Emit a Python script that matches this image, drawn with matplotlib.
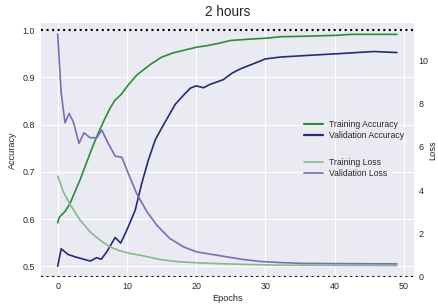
import matplotlib
matplotlib.use('Agg')
import matplotlib.pyplot as plt

plt.style.use('seaborn-v0_8-darkgrid')
plt.rcParams['font.family'] = ['Liberation Sans', 'DejaVu Sans']
plt.rcParams['text.color'] = '0.15'
plt.rcParams['axes.labelcolor'] = '0.15'
plt.rcParams['xtick.color'] = '0.15'
plt.rcParams['ytick.color'] = '0.15'

title = '2 hours'

# epochs / values
train_acc_epochs = [0, 0.23, 1.06, 1.78, 2.5, 3.23, 3.95, 4.67, 5.4, 6.6, 7.57, 8.29, 9.12,
                    10.2, 11.43, 13.36, 15.05, 16.73, 18.42, 20.12, 21.56, 23.24, 24.94,
                    27.83, 30.25, 32.17, 35.54, 40.38, 42.3, 49]
train_acc = [0.592, 0.604, 0.616, 0.633, 0.658, 0.683, 0.711, 0.739, 0.766, 0.806, 0.835,
             0.852, 0.863, 0.884, 0.905, 0.927, 0.943, 0.952, 0.958, 0.964, 0.967, 0.972,
             0.978, 0.981, 0.983, 0.986, 0.987, 0.989, 0.991, 0.991]

val_acc_epochs = [0, 0.5, 1.5, 2.5, 4.7, 5.6, 6.3, 7.1, 8.3, 9.1, 10.0, 11.2, 12.15, 13.1,
                  14.1, 15.3, 16.98, 18.1, 19.15, 20.0, 21.05, 22.0, 23.9, 25.2, 26.4,
                  28.3, 30.0, 32.2, 35.6, 40.4, 45.7, 49]
val_acc = [0.500, 0.537, 0.525, 0.520, 0.511, 0.518, 0.515, 0.531, 0.561, 0.549, 0.577,
           0.619, 0.676, 0.725, 0.768, 0.800, 0.843, 0.861, 0.877, 0.882, 0.878, 0.885,
           0.895, 0.909, 0.918, 0.929, 0.939, 0.943, 0.946, 0.950, 0.9547, 0.9525]

train_loss_epochs = [0, 0.82, 1.78, 3.23, 4.67, 6.12, 7.57, 9.0, 10.5, 11.9, 13.4, 14.8,
                     17.0, 20.1, 23.3, 26.4, 32.2, 40.0, 49]
train_loss = [4.65, 3.92, 3.35, 2.62, 2.08, 1.69, 1.38, 1.20, 1.08, 1.00, 0.90, 0.80,
              0.71, 0.65, 0.61, 0.58, 0.54, 0.53, 0.52]

val_loss_epochs = [0, 0.2, 0.5, 1.06, 1.64, 2.26, 3.08, 3.8, 4.67, 5.64, 6.36, 7.3, 8.3,
                   9.26, 10.2, 11.4, 12.9, 14.3, 16.2, 18.2, 20.1, 23.0, 26.4, 29.3,
                   32.2, 35.5, 49]
val_loss = [11.2, 10.1, 8.5, 7.11, 7.54, 7.15, 6.16, 6.65, 6.42, 6.42, 6.77, 6.16, 5.57,
            5.52, 4.77, 3.85, 3.00, 2.39, 1.77, 1.38, 1.15, 1.00, 0.82, 0.71, 0.66, 0.62,
            0.60]

fig = plt.figure(figsize=(4.38, 3.08), dpi=100)
ax1 = fig.add_axes([0.093, 0.101, 0.852, 0.825])
ax2 = ax1.twinx()

l1, = ax1.plot(train_acc_epochs, train_acc, color='#2e8b3a', lw=1.2, label='Training Accuracy')
l2, = ax1.plot(val_acc_epochs, val_acc, color='#2a2878', lw=1.2, label='Validation Accuracy')
ax1.axhline(1.0, color='black', ls=':', lw=1.5)

l3, = ax2.plot(train_loss_epochs, train_loss, color='#86ba8a', lw=1.2, label='Training Loss')
l4, = ax2.plot(val_loss_epochs, val_loss, color='#7a6db6', lw=1.2, label='Validation Loss')
ax2.axhline(0, color='black', ls=':', lw=1.5)

ax1.set_xlim(-2.45, 51.45)
ax1.set_ylim(0.4775, 1.0155)
ax2.set_ylim(0, 11.72)
ax1.set_xticks([0, 10, 20, 30, 40, 50])
ax1.set_yticks([0.5, 0.6, 0.7, 0.8, 0.9, 1.0])
ax2.set_yticks([0, 2, 4, 6, 8, 10])
ax2.grid(False)

ax1.tick_params(labelsize=6.4, length=0, pad=4)
ax2.tick_params(labelsize=6.4, length=0, pad=3.5)
ax1.set_xlabel('Epochs', fontsize=6.6, labelpad=2)
ax1.set_ylabel('Accuracy', fontsize=6.6, labelpad=4)
ax2.set_ylabel('Loss', fontsize=6.6, labelpad=-0.5)
ax1.set_title(title, fontsize=9.8, pad=5)

leg1 = ax2.legend(handles=[l1, l2], loc='center left', bbox_to_anchor=(0.697, 0.578),
                  frameon=False, fontsize=6.2, labelspacing=0.3, handlelength=2.2,
                  handletextpad=0.7, borderaxespad=0)
for h in leg1.get_lines():
    h.set_linewidth(1.6)
ax2.add_artist(leg1)
leg2 = ax2.legend(handles=[l3, l4], loc='center left', bbox_to_anchor=(0.697, 0.429),
                  frameon=False, fontsize=6.2, labelspacing=0.3, handlelength=2.2,
                  handletextpad=0.7, borderaxespad=0)

fig.savefig('out.png', dpi=100)
